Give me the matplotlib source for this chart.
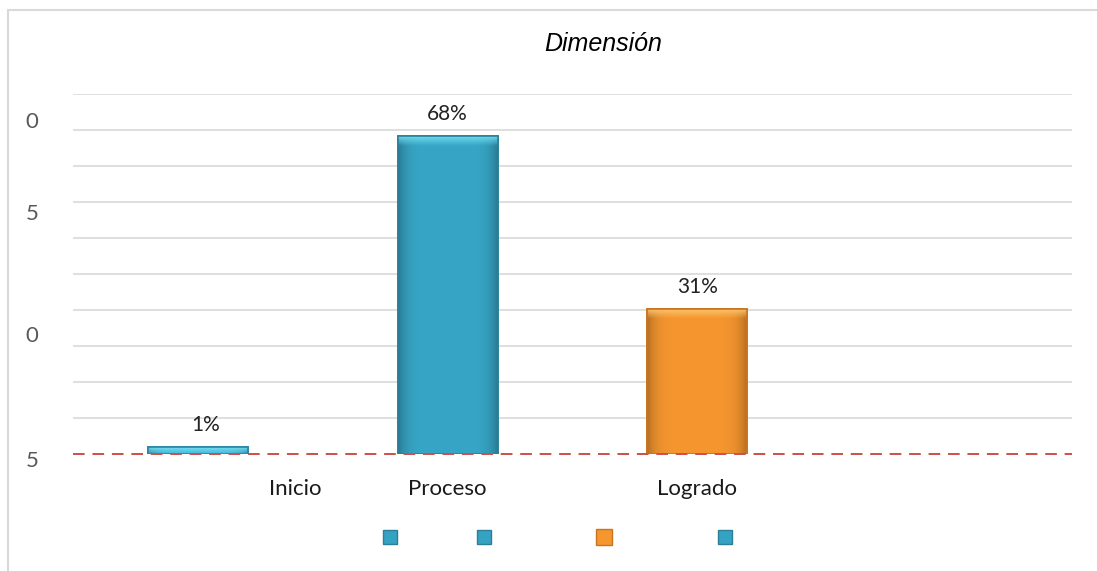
import matplotlib
matplotlib.use("Agg")
import matplotlib.pyplot as plt
import numpy as np
from matplotlib.lines import Line2D
from matplotlib.patches import Rectangle
import matplotlib.transforms as mtransforms
from matplotlib.colors import to_rgb

# ---- data ----
title = "Dimensión"
bar_positions = [0, 1, 2]
bar_values = [1.5, 68, 31]
bar_labels = ["1%", "68%", "31%"]
bar_colors = ["#3fb8da", "#37a6c6", "#f5962f"]
bar_edges = ["#2a86a3", "#2b7f99", "#c9741f"]
bar_highlights = ["#7fe3f7", "#6fdcf0", "#fcc66f"]
category_labels = ["Inicio", "Proceso", "Logrado"]
category_positions = [0.39, 1, 2]
ytick_texts = ["0", "5", "0", "5"]
ytick_values = [70.9, 51.3, 25.1, -1.5]
y_max = 76.9
legend_colors = ["#36a2c2", "#36a2c2", "#f5962f", "#36a2c2"]
legend_x = [390, 484, 604, 725]

W, H = 1097, 571
fig = plt.figure(figsize=(W / 100, H / 100), dpi=100)
ax = fig.add_axes([73 / W, 1 - 454 / H, (1072 - 73) / W, 360 / H])

# frame of the chart area (left and top edges only visible)
frame_kw = dict(color="#d9d9d9", linewidth=1.5, transform=fig.transFigure)
fig.add_artist(Line2D([8 / W, 8 / W], [0, 1 - 10 / H], **frame_kw))
fig.add_artist(Line2D([8 / W, 1], [1 - 10 / H, 1 - 10 / H], **frame_kw))

ax.set_xlim(-0.5, 3.5)
ax.set_ylim(0, y_max)
for y in np.linspace(0, y_max, 11)[1:]:
    ax.axhline(y, color="#d9d9d9", linewidth=1.2, zorder=0)

bars = ax.bar(bar_positions, bar_values, width=0.4, color=bar_colors,
              edgecolor=bar_edges, linewidth=1.2, zorder=2)

# gradient shading (darker sides, bright top band)
for b, base, hi in zip(bars, bar_colors, bar_highlights):
    x0, w, h = b.get_x(), b.get_width(), b.get_height()
    base_rgb = np.array(to_rgb(base))
    hi_rgb = np.array(to_rgb(hi))
    nx, ny = 60, 200
    xs = np.linspace(0, 1, nx)
    side = 1 - 0.25 * (np.abs(xs - 0.5) * 2) ** 6
    img = np.ones((ny, nx, 3)) * base_rgb
    img = img * side[None, :, None]
    px_per_unit = 360 / y_max
    band = min(1.0, 10 / (h * px_per_unit))
    ys = np.linspace(1, 0, ny)  # row 0 = top
    t = np.clip((ys - (1 - band)) / band, 0, 1)[:, None, None]
    img = img * (1 - t) + hi_rgb * t
    im = ax.imshow(np.clip(img, 0, 1), extent=(x0, x0 + w, 0, h), aspect="auto",
                   zorder=2.5, interpolation="bilinear")
    im.set_clip_path(b)
    ax.add_patch(Rectangle((x0, 0), w, h, fill=False, edgecolor=b.get_edgecolor(),
                           linewidth=1.2, zorder=3))

ax.set_xlim(-0.5, 3.5)
ax.set_ylim(0, y_max)

for xpos, v, lab in zip(bar_positions, bar_values, bar_labels):
    ax.text(xpos + (0.03 if v < 5 else 0), v + 2.5, lab, ha="center", va="bottom",
            fontsize=15, family="Lato", color="#222222")

ax.axhline(0, color="#cd4f4b", linestyle=(0, (6, 4)), linewidth=1.4, zorder=4, clip_on=False)

for spine in ax.spines.values():
    spine.set_visible(False)
ax.set_yticks([])
ax.set_xticks(category_positions)
ax.set_xticklabels(category_labels, fontsize=16, family="Lato", color="#1a1a1a")
ax.tick_params(axis="x", length=0, pad=18)

trans = mtransforms.blended_transform_factory(fig.transFigure, ax.transData)
for t, v in zip(ytick_texts, ytick_values):
    fig.text(32 / W, v, t, transform=trans, ha="center", va="center",
             fontsize=16, family="Lato", color="#595959")

fig.text(603 / W, 1 - 44 / H, title, ha="center", va="center", fontsize=18,
         family="Liberation Sans", style="italic", color="#000000")

for x, c in zip(legend_x, legend_colors):
    orange = c == "#f5962f"
    fig.add_artist(Line2D([x / W], [1 - 537 / H], marker="s", markersize=12 if orange else 10,
                          markerfacecolor=c, markeredgecolor="#c9741f" if orange else "#2b7f99",
                          linestyle="none", transform=fig.transFigure))

fig.savefig("out.png", dpi=100)
